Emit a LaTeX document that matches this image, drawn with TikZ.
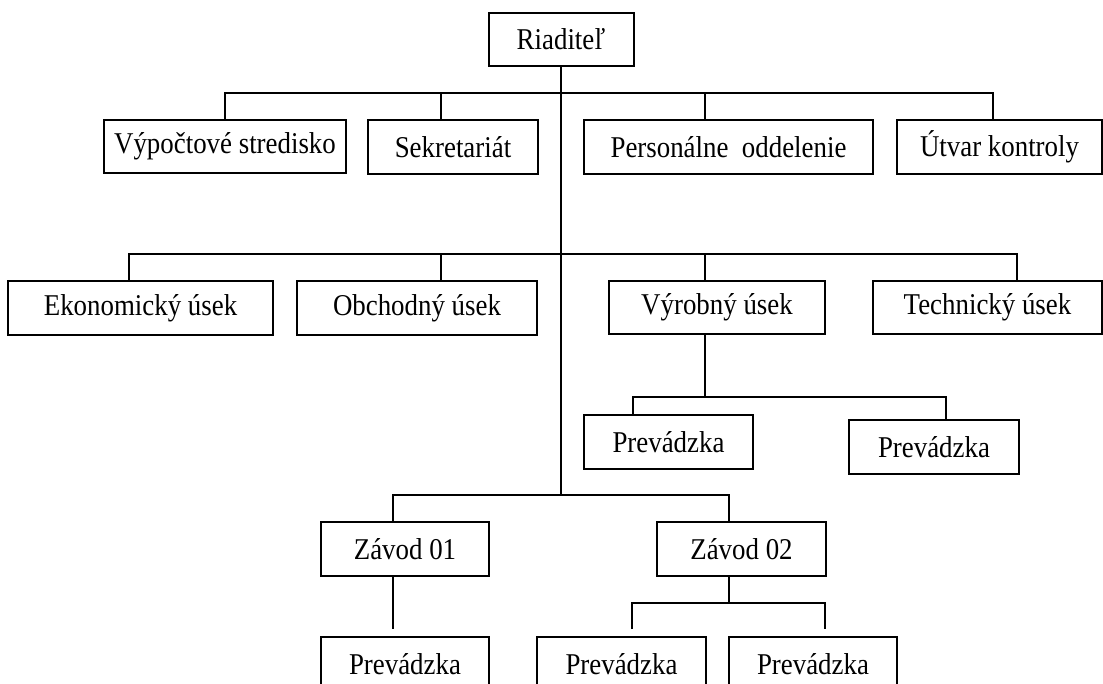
\documentclass[tikz,border=0pt]{standalone}
\usepackage{fontspec}
\setmainfont{Liberation Serif}[FakeStretch=0.89]
\usetikzlibrary{calc}
\begin{document}
\begin{tikzpicture}[x=1pt,y=-1pt,
  unit/.style={draw, line width=2pt, inner sep=0pt, minimum height=54pt,
    font=\fontsize{30.2}{34}\selectfont},
  link/.style={line width=2pt}]
\path[use as bounding box] (0,0) rectangle (1103,684);
\clip (0,0) rectangle (1103,684);

% boxes
\node[unit, minimum width=145pt, minimum height=53pt] (rd) at (561,39.5) {Riaditeľ};
\node[unit, minimum width=242pt, minimum height=53pt] (vs) at (225,146.5) {Výpočtové stredisko};
\node[unit, minimum width=170pt] (sk) at (453,147) {Sekretariát};
\node[unit, minimum width=289pt] (po) at (728.5,147) {Personálne\ \ oddelenie};
\node[unit, minimum width=205pt] (uk) at (999.5,147) {Útvar kontroly};

\node[unit, minimum width=265pt] (ek) at (140.5,308) {Ekonomický úsek};
\node[unit, minimum width=240pt] (ob) at (417,308) {Obchodný úsek};
\node[unit, minimum width=216pt, minimum height=53pt] (vy) at (717,307.5) {Výrobný úsek};
\node[unit, minimum width=229pt, minimum height=53pt] (te) at (987.5,307.5) {Technický úsek};

\node[unit, minimum width=169pt] (pv1) at (668.5,442) {Prevádzka};
\node[unit, minimum width=170pt] (pv2) at (934,447) {Prevádzka};

\node[unit, minimum width=168pt] (z1) at (405,549) {Závod 01};
\node[unit, minimum width=169pt] (z2) at (741.5,549) {Závod 02};

\node[unit, minimum width=168pt] (p1) at (405,664) {Prevádzka};
\node[unit, minimum width=169pt] (p2) at (621.5,664) {Prevádzka};
\node[unit, minimum width=168pt] (p3) at (813,664) {Prevádzka};

% main trunk
\draw[link] (rd.south) -- (rd.south |- 0,495);

% staff level
\draw[link] (vs.north) |- (rd.south |- 0,93) -| (uk.north -| 993,0);
\draw[link] (sk.north -| 441,0) -- (441,93);
\draw[link] (po.north -| 705,0) -- (705,93);

% divisions
\draw[link] (ek.north -| 129,0) |- (rd.south |- 0,254) -| (te.north -| 1017,0);
\draw[link] (ob.north -| 441,0) -- (441,254);
\draw[link] (vy.north -| 705,0) -- (705,254);

% production units
\draw[link] (vy.south -| 705,0) -- (705,397);
\draw[link] (pv1.north -| 633,0) |- (705,397) -| (pv2.north -| 946,0);

% plants
\draw[link] (z1.north -| 393,0) |- (rd.south |- 0,495) -| (z2.north -| 729,0);
\draw[link] (z1.south -| 393,0) -- ($(p1.north -| 393,0)+(0,-7)$);
\draw[link] (z2.south -| 729,0) -- (729,603);
\draw[link] ($(p2.north -| 632,0)+(0,-7)$) |- (729,603) -| ($(p3.north -| 825,0)+(0,-7)$);
\end{tikzpicture}
\end{document}
